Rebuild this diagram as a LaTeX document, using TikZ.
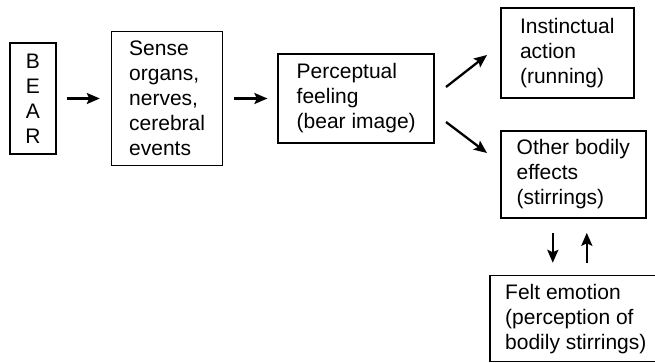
\documentclass[tikz,border=0pt]{standalone}
\usepackage{fontspec}
\setmainfont{Liberation Sans}
\usetikzlibrary{positioning,arrows.meta}
\begin{document}
\begin{tikzpicture}[
        x=1pt, y=1pt,
        node distance=54pt,
        every node/.style={draw, line width=1.6pt, align=left, inner sep=0pt, font=\fontsize{21}{25}\selectfont},
        arr/.style={-{Stealth[length=13pt, width=11pt, inset=2.5pt]}, line width=2.3pt}
    ]
        \useasboundingbox (0,0) rectangle (655,-363);
        \node[minimum width=46pt, minimum height=111pt, align=center] (bear) at (33,-98.5) {B\\E\\A\\R};
        \node[minimum width=111pt, minimum height=134pt, right=of bear] (sense) {Sense\\organs,\\nerves,\\cerebral\\events};
        \node[minimum width=156pt, minimum height=89pt, right=of sense] (percept) {Perceptual\\feeling\\(bear image)};
        \node[minimum width=133pt, minimum height=90pt, right=65pt of percept, yshift=45.5pt] (instinct) {Instinctual\\action\\(running)};
        \node[minimum width=145pt, minimum height=87pt, right=65pt of percept, yshift=-76pt] (bodily) {Other bodily\\effects\\(stirrings)};
        \node[minimum width=172pt, minimum height=86pt, below=56pt of bodily, xshift=2.5pt] (felt) {Felt emotion\\(perception of\\bodily stirrings)};

        \draw[arr, shorten <=10pt, shorten >=11pt] (bear) -- (sense);
        \draw[arr, shorten <=11pt, shorten >=10pt] (sense) -- (percept);
        \draw[arr] ([shift={(11,11.5)}]percept.east) -- ([shift={(-13,-2)}]instinct.west);
        \draw[arr] ([shift={(11,-23.5)}]percept.east) -- ([shift={(-13,21.5)}]bodily.west);
        \draw[arr] ([shift={(-20.5,-14)}]bodily.south) -- ([shift={(-23,12)}]felt.north);
        \draw[arr] ([shift={(11,12)}]felt.north) -- ([shift={(13.5,-14)}]bodily.south);
    \end{tikzpicture}
\end{document}
